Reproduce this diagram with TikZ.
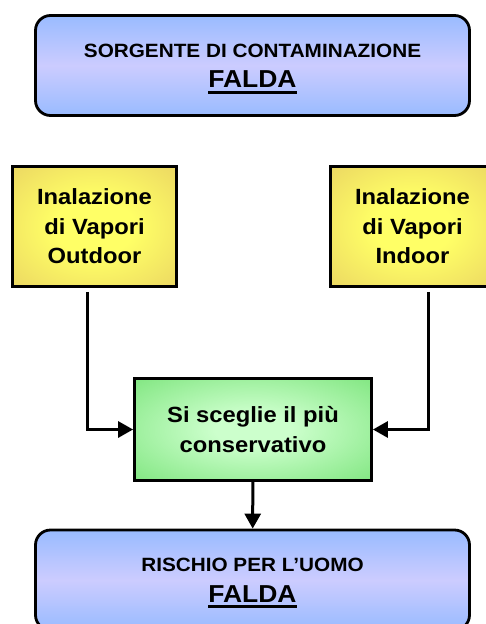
\documentclass[tikz,border=0pt]{standalone}
\usepackage{fontspec}
\setmainfont[FakeStretch=1.08]{Liberation Sans}
\usetikzlibrary{positioning,arrows.meta}

\definecolor{boxblue}{RGB}{153,187,255}
\definecolor{boxlav}{RGB}{204,204,255}
\definecolor{yellowout}{RGB}{224,192,96}
\definecolor{yellowin}{RGB}{255,255,102}
\definecolor{greenout}{RGB}{102,221,102}
\definecolor{greenin}{RGB}{204,255,204}

\pgfdeclareradialshading[yellowin,yellowout]{yellowglow}{\pgfpoint{0bp}{0bp}}{color(0bp)=(yellowin);color(12bp)=(yellowin);color(50bp)=(yellowout);color(100bp)=(yellowout)}
\pgfdeclareradialshading[greenin,greenout]{greenglow}{\pgfpoint{0bp}{0bp}}{color(0bp)=(greenin);color(8bp)=(greenin);color(46bp)=(greenout);color(100bp)=(greenout)}

\newcommand{\thickul}[1]{\setbox0\hbox{#1}\leavevmode\rlap{\rule[-5.8pt]{\wd0}{2.8pt}}\box0}

\tikzset{
  bluebox/.style={draw, line width=2.8pt, rounded corners=15pt,
    minimum width=434pt, minimum height=100pt,
    top color=boxblue, bottom color=boxblue, middle color=boxlav,
    align=center, font=\bfseries\fontsize{19.2}{30.6}\selectfont},
  yellowbox/.style={draw, line width=2.8pt, shading=yellowglow,
    minimum width=164pt, minimum height=120pt,
    align=center, font=\bfseries\fontsize{22}{29.5}\selectfont},
  greenbox/.style={draw, line width=2.8pt, shading=greenglow,
    minimum width=237pt, minimum height=102pt,
    align=center, font=\bfseries\fontsize{22}{29.5}\selectfont},
  flow/.style={line width=3pt, -{Triangle[length=15pt,width=16pt]}}
}

\begin{document}
\begin{tikzpicture}[x=1pt,y=-1pt]
  \useasboundingbox (0,0) rectangle (486,624);

  % Boxes
  \node[bluebox] (source) at (252.5,65.5)
    {\rule{0pt}{20pt}SORGENTE DI CONTAMINAZIONE\\{\fontsize{24.5}{30.6}\selectfont\thickul{FALDA}}};
  \node[yellowbox] (outdoor) at (94.5,226.5) {Inalazione\\di Vapori\\Outdoor};
  \node[yellowbox] (indoor) at (412.5,226.5) {Inalazione\\di Vapori\\Indoor};
  \node[greenbox] (choice) at (253,429.5) {Si sceglie il più\\conservativo};
  \node[bluebox] (risk) at (252.5,580)
    {\rule{0pt}{20pt}RISCHIO PER L’UOMO\\{\fontsize{24.5}{30.6}\selectfont\thickul{FALDA}}};

  % Connectors
  \draw[flow] ([xshift=-7.5pt,yshift=-4pt]outdoor.south) |- (choice.west);
  \draw[flow] ([xshift=15.5pt,yshift=-4pt]indoor.south) |- (choice.east);
  \draw[flow] (choice) -- (risk);
\end{tikzpicture}
\end{document}
